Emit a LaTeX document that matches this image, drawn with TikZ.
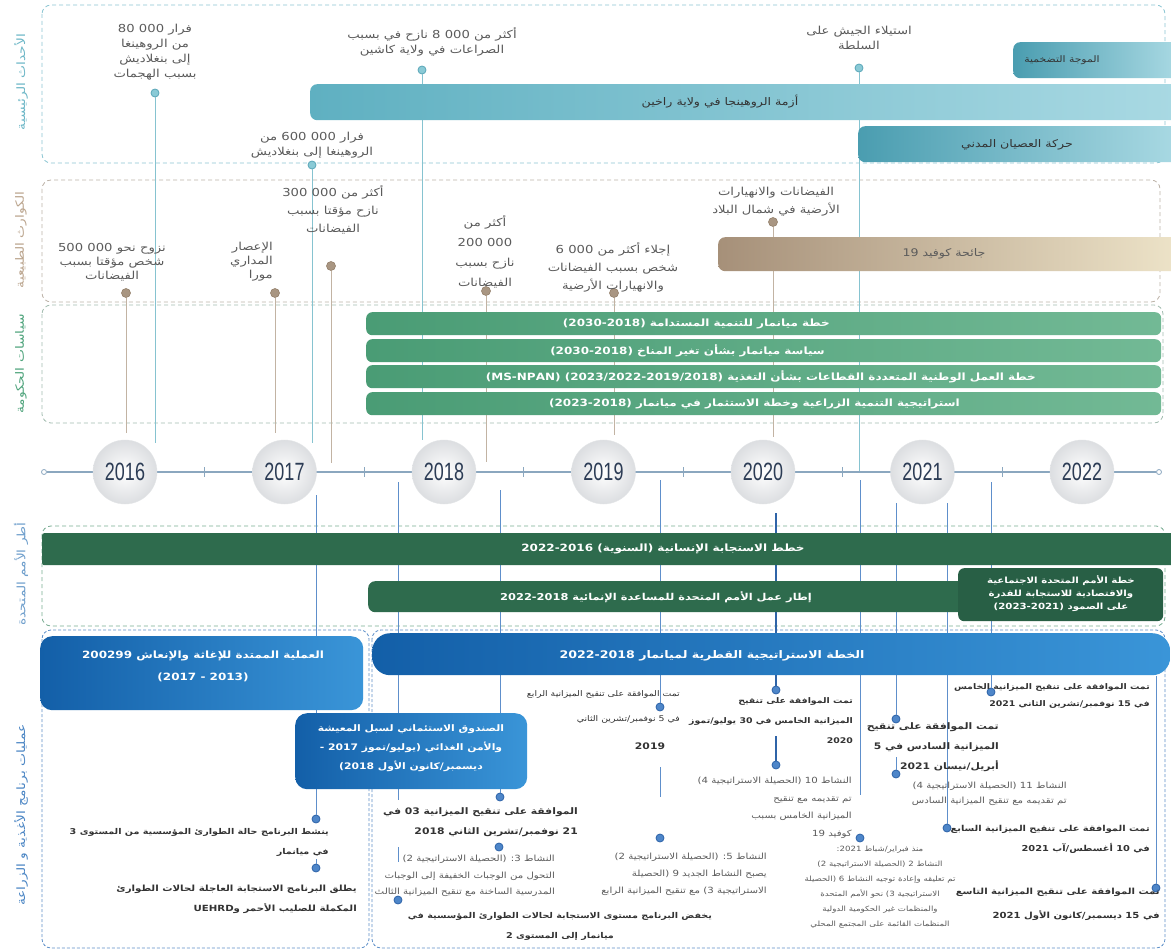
\documentclass[tikz,border=0pt]{standalone}
\usepackage{fontspec}
\setmainfont{DejaVu Sans}
\newfontfamily\arabicfont[Script=Arabic,FakeStretch=1.2]{DejaVu Sans}
\newfontfamily\yearfont[FakeStretch=0.72]{Liberation Sans}
\TeXXeTstate=1
\newcommand\arl[1]{\beginR #1\endR}
\newcommand\lat[1]{\beginL #1\endL{}}
\definecolor{secteal}{HTML}{8CC6D3}
\definecolor{secbrown}{HTML}{BDB3A8}
\definecolor{secgreen}{HTML}{A3BDB0}
\definecolor{secun}{HTML}{79AD93}
\definecolor{secwfp}{HTML}{5E90C9}
\definecolor{labteal}{HTML}{6DB7C7}
\definecolor{labbrown}{HTML}{BBA58E}
\definecolor{labgreen}{HTML}{4FA47C}
\definecolor{labun}{HTML}{6F9FCC}
\definecolor{labwfp}{HTML}{4A85C4}
\definecolor{dotteal}{HTML}{8ACAD6}
\definecolor{dottealD}{HTML}{5AA6B8}
\definecolor{lineteal}{HTML}{86C3D0}
\definecolor{dotbrown}{HTML}{A99682}
\definecolor{dotbrownD}{HTML}{94806B}
\definecolor{linebrown}{HTML}{C2B3A3}
\definecolor{dotblue}{HTML}{4E86C9}
\definecolor{dotblueD}{HTML}{2D63A8}
\definecolor{lineblue}{HTML}{5E8FCB}
\definecolor{lineblueD}{HTML}{2F64A8}
\definecolor{evteal}{HTML}{5FB0C1}
\definecolor{evtealD}{HTML}{4A9DB0}
\definecolor{evtealL}{HTML}{A9D9E3}
\definecolor{covidL}{HTML}{A69079}
\definecolor{covidR}{HTML}{EDE3C8}
\definecolor{polL}{HTML}{4A9C75}
\definecolor{polR}{HTML}{72B995}
\definecolor{ungreen}{HTML}{2E6B4D}
\definecolor{ungreenD}{HTML}{285F45}
\definecolor{wfpL}{HTML}{135FA8}
\definecolor{wfpR}{HTML}{3A95D8}
\definecolor{inkgray}{HTML}{5B5B5B}
\definecolor{inkdark}{HTML}{333333}
\definecolor{yearink}{HTML}{2C3C55}
\definecolor{ballgray}{HTML}{DCDEE1}
\definecolor{axisgray}{HTML}{8BA7BF}
\begin{document}
\begin{tikzpicture}[x=1pt,y=-1pt]
        \tikzstyle{secbox}=[rounded corners=9pt,dash pattern=on 4pt off 3pt,line width=0.8pt]
        \tikzstyle{sidelabel}=[rotate=90,inner sep=0pt,font=\arabicfont\fontsize{11.5}{12}\selectfont]
        \tikzstyle{evdot}=[circle,inner sep=0pt,minimum size=8pt,fill=dotteal,draw=dottealD,line width=0.8pt]
        \tikzstyle{nddot}=[circle,inner sep=0pt,minimum size=9pt,fill=dotbrown,draw=dotbrownD,line width=0.6pt]
        \tikzstyle{opdot}=[circle,inner sep=0pt,minimum size=8pt,fill=dotblue,draw=dotblueD,line width=0.8pt]
        \tikzstyle{evline}=[draw=lineteal,line width=0.8pt]
        \tikzstyle{ndline}=[draw=linebrown,line width=0.8pt]
        \tikzstyle{opline}=[draw=lineblue,line width=0.8pt]
        \tikzstyle{opthick}=[draw=lineblueD,line width=1.6pt]
        \tikzstyle{axisline}=[draw=axisgray,line width=1.1pt]
        \tikzstyle{axend}=[circle,draw=axisgray,fill=white,minimum size=5pt,inner sep=0pt,line width=0.8pt]
        \tikzstyle{bar}=[anchor=north west,inner sep=0pt,rounded corners=7pt]
        \tikzstyle{evtext}=[align=center,text=inkgray,inner sep=0pt,font=\arabicfont\fontsize{11}{15}\selectfont]
        \tikzstyle{bartext}=[text=inkdark,inner sep=0pt,font=\arabicfont\fontsize{10.5}{12}\selectfont]
        \tikzstyle{whitetext}=[align=center,text=white,inner sep=0pt,font=\arabicfont\bfseries\fontsize{10}{12}\selectfont]
        \tikzstyle{optext}=[align=right,anchor=north east,text=inkdark,inner sep=0pt,font=\arabicfont\bfseries\fontsize{8.5}{20}\selectfont]
        \tikzstyle{note}=[align=right,anchor=north east,text=inkgray,inner sep=0pt,font=\arabicfont\fontsize{8.5}{16.5}\selectfont]
        \tikzstyle{yearball}=[circle,minimum size=64pt,inner sep=0pt,inner color=white,outer color=ballgray,draw=ballgray!80,line width=0.4pt,text=yearink,font=\yearfont\fontsize{25}{25}\selectfont]

        \useasboundingbox (0,0) rectangle (1171,950);
        \fill[white] (0,0) rectangle (1171,950);

        % rows
        \draw[secbox,draw=secteal] (42,5) rectangle (1165,163);
        \draw[secbox,draw=secbrown] (42,180) rectangle (1160,302);
        \draw[secbox,draw=secgreen] (42,305) rectangle (1163,423);
        \draw[secbox,draw=secun] (42,526) rectangle (1165,626);
        \draw[secbox,draw=secwfp,dash pattern=on 3pt off 2pt] (42,630) rectangle (369,948);
        \draw[secbox,draw=secwfp,dash pattern=on 3pt off 2pt] (372,630) rectangle (1165,948);

        \node[sidelabel,text=labteal] (labev) at (21,82) {\arl{الأحداث الرئيسية}};
        \node[sidelabel,text=labbrown] (labnd) at (21,240) {\arl{الكوارث الطبيعية}};
        \node[sidelabel,text=labgreen] (labpol) at (21,364) {\arl{سياسات الحكومة}};
        \node[sidelabel,text=labun] (labun) at (21,574) {\arl{أطر الأمم المتحدة}};
        \node[sidelabel,text=labwfp] (labwfp) at (21,815) {\arl{عمليات برنامج الأغذية و الزراعة}};

        % connectors, upper half
        \foreach \nm/\x/\ya/\yb in {80/155/93/443,600/312/165/443,8k/422/70/440,coup/859/68/472}{
          \node[evdot] (d\nm) at (\x,\ya) {};
          \coordinate (e\nm) at (\x,\yb);
          \draw[evline] (d\nm) -- (e\nm);
        }
        \foreach \nm/\x/\ya/\yb in {500/126/293/433,mora/275/293/433,300/331/266/463,200/486/291/462,6k/614/293/435,north/773/222/437}{
          \node[nddot] (d\nm) at (\x,\ya) {};
          \coordinate (e\nm) at (\x,\yb);
          \draw[ndline] (d\nm) -- (e\nm);
        }

        % connectors, lower half
        \foreach \nm/\x/\ya/\yb in {1a/316/495/819,3a/500/490/797,4a/660/480/707,7a/896/503/719,8/947/503/828,9/991/482/692,10/1156/676/888}{
          \coordinate (t\nm) at (\x,\ya);
          \node[opdot] (o\nm) at (\x,\yb) {};
          \draw[opline] (t\nm) -- (o\nm);
        }
        \node[opdot] (o1b) at (316,868) {};
        \node[opdot] (o2) at (398,900) {};
        \node[opdot] (o3b) at (499,847) {};
        \node[opdot] (o4b) at (660,838) {};
        \node[opdot] (o5a) at (776,690) {};
        \node[opdot] (o5b) at (776,765) {};
        \node[opdot] (o6) at (860,838) {};
        \node[opdot] (o7b) at (896,774) {};
        \coordinate (t1b) at (316,859);
        \coordinate (t2a) at (398,482);
        \coordinate (t2b) at (398,800);
        \coordinate (t2c) at (398,847);
        \coordinate (t2d) at (398,862);
        \coordinate (t4b) at (660,767);
        \coordinate (t4c) at (660,797);
        \coordinate (t5a) at (776,513);
        \coordinate (t5b) at (776,736);
        \coordinate (t6a) at (860,480);
        \coordinate (t6b) at (860,795);
        \coordinate (t7b) at (896,757);
        \draw[opline] (t1b) -- (o1b);
        \draw[opline] (t2a) -- (t2b);
        \draw[opline] (t2c) -- (t2d);
        \draw[opline] (t4b) -- (t4c);
        \draw[opline] (t6a) -- (t6b);
        \draw[opline] (t7b) -- (o7b);
        \draw[opthick] (t5a) -- (o5a);
        \draw[opthick] (t5b) -- (o5b);

        % main events
        \node[bar,minimum width=165pt,minimum height=36pt,left color=evtealD,right color=evtealL] (inflbar) at (1013,42) {};
        \node[bartext,font=\arabicfont\fontsize{9}{12}\selectfont] (infl) at (1062,60) {\arl{الموجة التضخمية}};
        \node[bar,minimum width=868pt,minimum height=36pt,left color=evteal,right color=evtealL] (rohbar) at (310,84) {};
        \node[bartext] (roh) at (720,102) {\arl{أزمة الروهينجا في ولاية راخين}};
        \node[bar,minimum width=320pt,minimum height=36pt,left color=evtealD,right color=evtealL] (cdmbar) at (858,126) {};
        \node[bartext] (cdm) at (1017,145) {\arl{حركة العصيان المدني}};

        \node[evtext] (ev80) at (155,52) {\arl{فرار \lat{80 000}}\\\arl{من الروهينغا}\\\arl{إلى بنغلاديش}\\\arl{بسبب الهجمات}};
        \node[evtext] (ev8k) at (432,42) {\arl{أكثر من \lat{8 000} نازح في بسبب}\\\arl{الصراعات في ولاية كاشين}};
        \node[evtext] (evcoup) at (859,38) {\arl{استيلاء الجيش على}\\\arl{السلطة}};
        \node[evtext] (ev600) at (312,145) {\arl{فرار \lat{600 000} من}\\\arl{الروهينغا إلى بنغلاديش}};

        % natural disasters
        \node[bar,minimum width=460pt,minimum height=34pt,left color=covidL,right color=covidR] (covbar) at (718,237) {};
        \node[bartext,text=inkgray] (cov) at (944,254) {\arl{جائحة كوفيد \lat{19}}};

        \node[evtext,font=\arabicfont\fontsize{11}{18}\selectfont] (nd300) at (333,210) {\arl{أكثر من \lat{300 000}}\\\arl{نازح مؤقتا بسبب}\\\arl{الفيضانات}};
        \node[evtext,font=\arabicfont\fontsize{11}{14}\selectfont] (nd500) at (112,262) {\arl{نزوح نحو \lat{500 000}}\\\arl{شخص مؤقتا بسبب}\\\arl{الفيضانات}};
        \node[evtext,align=right,anchor=east,font=\arabicfont\fontsize{11}{14}\selectfont] (ndmora) at (273,262) {\arl{الإعصار}\\\arl{المداري}\\\arl{مورا}};
        \node[evtext,font=\arabicfont\fontsize{11}{20}\selectfont] (nd200) at (485,252) {\arl{أكثر من}\\\arl{\lat{200 000}}\\\arl{نازح بسبب}\\\arl{الفيضانات}};
        \node[evtext,font=\arabicfont\fontsize{11}{18}\selectfont] (nd6k) at (613,267) {\arl{إجلاء أكثر من \lat{6 000}}\\\arl{شخص بسبب الفيضانات}\\\arl{والانهيارات الأرضية}};
        \node[evtext,font=\arabicfont\fontsize{11}{18}\selectfont] (ndnorth) at (776,202) {\arl{الفيضانات والانهيارات}\\\arl{الأرضية في شمال البلاد}};

        % government policies
        \node[bar,minimum width=795pt,minimum height=23pt,left color=polL,right color=polR,rounded corners=6pt] (pol1bar) at (366,312) {};
        \node[bar,minimum width=795pt,minimum height=23pt,left color=polL,right color=polR,rounded corners=6pt] (pol2bar) at (366,339) {};
        \node[bar,minimum width=795pt,minimum height=23pt,left color=polL,right color=polR,rounded corners=6pt] (pol3bar) at (366,365) {};
        \node[bar,minimum width=795pt,minimum height=23pt,left color=polL,right color=polR,rounded corners=6pt] (pol4bar) at (366,392) {};
        \node[whitetext,anchor=east] (pol1) at (830,323.5) {\arl{خطة ميانمار للتنمية المستدامة \lat{(2030-2018)}}};
        \node[whitetext,anchor=east] (pol2) at (825,350.5) {\arl{سياسة ميانمار بشأن تغير المناخ \lat{(2030-2018)}}};
        \node[whitetext,anchor=east] (pol3) at (1036,376.5) {\arl{خطة العمل الوطنية المتعددة القطاعات بشأن التغذية \lat{(2023/2022-2019/2018)} \lat{(MS-NPAN)}}};
        \node[whitetext,anchor=east] (pol4) at (960,403.5) {\arl{استراتيجية التنمية الزراعية وخطة الاستثمار في ميانمار \lat{(2023-2018)}}};

        % time axis
        \node[axend] (axl) at (44,472) {};
        \node[axend] (axr) at (1159,472) {};
        \draw[axisline] (axl) -- (axr);
        \foreach \i in {0,...,5}
          \draw[axisline,line width=0.8pt] ({204.75+159.5*\i},467) -- ({204.75+159.5*\i},477);
        \foreach \yr [count=\i from 0] in {2016,2017,2018,2019,2020,2021,2022}
          \node[yearball] (y\yr) at ({125+159.5*\i},472) {\yr};

        % UN frameworks
        \node[bar,minimum width=1136pt,minimum height=32pt,fill=ungreen,rounded corners=2pt] (hrpbar) at (42,533) {};
        \node[whitetext] (hrp) at (663,549) {\arl{خطط الاستجابة الإنسانية (السنوية) \lat{2022-2016}}};
        \node[bar,minimum width=600pt,minimum height=31pt,fill=ungreen] (undafbar) at (368,581) {};
        \node[whitetext,font=\arabicfont\bfseries\fontsize{9.5}{12}\selectfont] (undaf) at (656,597) {\arl{إطار عمل الأمم المتحدة للمساعدة الإنمائية \lat{2022-2018}}};
        \node[bar,minimum width=205pt,minimum height=53pt,fill=ungreenD,rounded corners=6pt] (serpbar) at (958,568) {};
        \node[whitetext,font=\arabicfont\bfseries\fontsize{8.5}{13}\selectfont] (serp) at (1061,594) {\arl{خطة الأمم المتحدة الاجتماعية}\\\arl{والاقتصادية للاستجابة للقدرة}\\\arl{على الصمود \lat{(2023-2021)}}};

        % WFP operations
        \node[bar,minimum width=323pt,minimum height=74pt,left color=wfpL,right color=wfpR,rounded corners=12pt] (erobar) at (40,636) {};
        \node[whitetext,font=\arabicfont\bfseries\fontsize{10}{22}\selectfont] (ero) at (203,666) {\arl{العملية الممتدة للإغاثة والإنعاش \lat{200299}}\\\arl{(2013 - 2017)}};
        \node[bar,minimum width=798pt,minimum height=42pt,left color=wfpL,right color=wfpR,rounded corners=18pt] (cspbar) at (372,633) {};
        \node[whitetext,font=\arabicfont\bfseries\fontsize{10.5}{12}\selectfont] (csp) at (712,656) {\arl{الخطة الاستراتيجية القطرية لميانمار \lat{2022-2018}}};
        \node[bar,minimum width=232pt,minimum height=76pt,left color=wfpL,right color=wfpR,rounded corners=12pt] (tfbar) at (295,713) {};
        \node[whitetext,font=\arabicfont\bfseries\fontsize{9}{19}\selectfont] (tf) at (411,748) {\arl{الصندوق الاستئماني لسبل المعيشة}\\\arl{والأمن الغذائي (يوليو/تموز 2017 -}\\\arl{ديسمبر/كانون الأول 2018)}};

        \node[optext,font=\arabicfont\bfseries\fontsize{8}{20}\selectfont] (lvl3) at (329,828) {\arl{ينشط البرنامج حالة الطوارئ المؤسسية من المستوى \lat{3}}\\\arl{في ميانمار}};
        \node[optext] (uehrd) at (357,885) {\arl{يطلق البرنامج الاستجابة العاجلة لحالات الطوارئ}\\\arl{المكملة للصليب الأحمر و\lat{UEHRD}}};

        \node[optext,font=\arabicfont\bfseries\fontsize{9}{20}\selectfont] (bud3) at (578,807) {\arl{الموافقة على تنقيح الميزانية \lat{03} في}\\\arl{\lat{21} نوفمبر/تشرين الثاني \lat{2018}}};
        \node[note] (act3) at (555,855) {\arl{النشاط 3: (الحصيلة الاستراتيجية 2)}\\\arl{التحول من الوجبات الخفيفة إلى الوجبات}\\\arl{المدرسية الساخنة مع تنقيح الميزانية الثالث}};
        \node[optext,align=center,anchor=north,font=\arabicfont\bfseries\fontsize{8}{20}\selectfont] (lvl2) at (560,912) {\arl{يخفض البرنامج مستوى الاستجابة لحالات الطوارئ المؤسسية في}\\\arl{ميانمار إلى المستوى \lat{2}}};

        \node[optext,font=\arabicfont\fontsize{7.8}{25}\selectfont] (bud4) at (680,690) {\arl{تمت الموافقة على تنقيح الميزانية الرابع}\\\arl{في \lat{5} نوفمبر/تشرين الثاني}};
        \node[optext,anchor=center,font=\arabicfont\bfseries\fontsize{9}{10}\selectfont] (bud4y) at (650,746) {2019};
        \node[note,font=\arabicfont\fontsize{8.5}{17}\selectfont] (act5) at (767,853) {\arl{النشاط 5: (الحصيلة الاستراتيجية 2)}\\\arl{يصبح النشاط الجديد \lat{9} (الحصيلة}\\\arl{الاستراتيجية 3) مع تنقيح الميزانية الرابع}};

        \node[optext,font=\arabicfont\bfseries\fontsize{7.8}{20}\selectfont] (bud5) at (853,697) {\arl{تمت الموافقة على تنقيح}\\\arl{الميزانية الخامس في \lat{30} يوليو/تموز}\\\arl{\lat{2020}}};
        \node[note,font=\arabicfont\fontsize{8.5}{17.5}\selectfont] (act10) at (852,777) {\arl{النشاط \lat{10} (الحصيلة الاستراتيجية 4)}\\\arl{تم تقديمه مع تنقيح}\\\arl{الميزانية الخامس بسبب}\\\arl{كوفيد \lat{19}}};

        \node[note,align=center,anchor=north,font=\arabicfont\fontsize{7.2}{15}\selectfont] (feb) at (880,846) {\arl{منذ فبراير/شباط 2021:}\\\arl{النشاط \lat{2} (الحصيلة الاستراتيجية 2)}\\\arl{تم تعليقه وإعادة توجيه النشاط \lat{6} (الحصيلة}\\\arl{الاستراتيجية 3) نحو الأمم المتحدة}\\\arl{والمنظمات غير الحكومية الدولية}\\\arl{المنظمات القائمة على المجتمع المحلي}};

        \node[optext,font=\arabicfont\bfseries\fontsize{9}{20}\selectfont] (bud6) at (999,722) {\arl{تمت الموافقة على تنقيح}\\\arl{الميزانية السادس في \lat{5}}\\\arl{أبريل/نيسان \lat{2021}}};
        \node[note,font=\arabicfont\fontsize{8.5}{15}\selectfont] (act11) at (1067,782) {\arl{النشاط \lat{11} (الحصيلة الاستراتيجية 4)}\\\arl{تم تقديمه مع تنقيح الميزانية السادس}};

        \node[optext,font=\arabicfont\bfseries\fontsize{7.8}{17}\selectfont] (bud8) at (1150,683) {\arl{تمت الموافقة على تنقيح الميزانية الخامس}\\\arl{في \lat{15} نوفمبر/تشرين الثاني \lat{2021}}};
        \node[optext,font=\arabicfont\bfseries\fontsize{8.2}{20}\selectfont] (bud7) at (1150,825) {\arl{تمت الموافقة على تنقيح الميزانية السابع}\\\arl{في \lat{10} أغسطس/آب \lat{2021}}};
        \node[optext,font=\arabicfont\bfseries\fontsize{8.4}{24}\selectfont] (bud9) at (1160,888) {\arl{تمت الموافقة على تنقيح الميزانية التاسع}\\\arl{في \lat{15} ديسمبر/كانون الأول \lat{2021}}};
\end{tikzpicture}
\end{document}
